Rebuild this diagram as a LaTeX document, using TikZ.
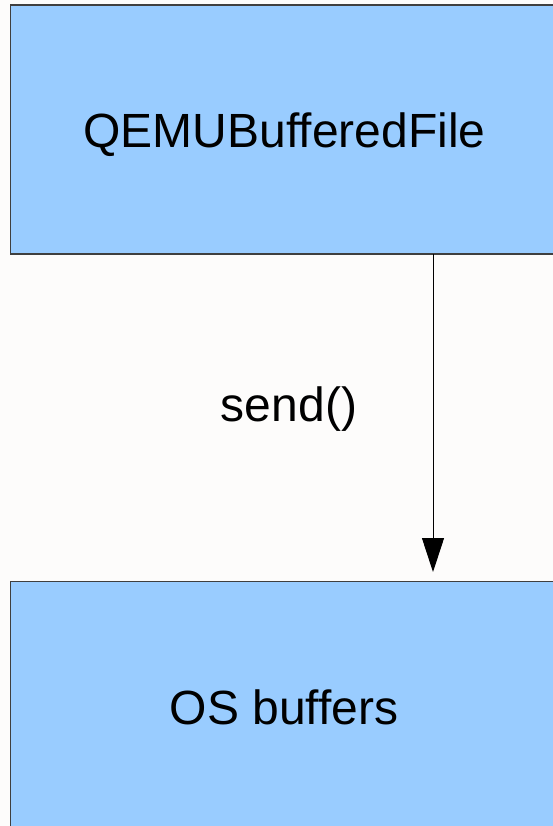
\documentclass[tikz,border=0pt]{standalone}
\usepackage{fontspec}
\setmainfont{Liberation Sans}
\usetikzlibrary{arrows.meta}
\definecolor{bg}{HTML}{FDFCFB}
\definecolor{boxfill}{HTML}{99CCFF}
\definecolor{boxline}{HTML}{3F3F3F}
\tikzset{
  blk/.style={draw=boxline, fill=boxfill, line width=1.2pt},
  lbl/.style={font=\fontsize{48}{57}\selectfont, text=black, inner sep=0pt, anchor=base},
}
\begin{document}
\begin{tikzpicture}[x=1pt,y=-1pt]
\fill[bg] (0,0) rectangle (553,826);
\useasboundingbox (0,0) rectangle (553,826);
\draw[blk] (10.5,5) rectangle (570,254);
\draw[blk] (10.5,581.5) rectangle (570,850);
\node[lbl] (qemu) at (284.5,148) {QEMUBufferedFile};
\node[lbl] (send) at (289,421) {send()};
\node[lbl] (os) at (284,724) {OS buffers};
\coordinate (a1) at (433,254);
\coordinate (a2) at (433,572);
\draw[line width=1pt, -{Triangle[length=34pt,width=22pt]}] (a1) -- (a2);
\end{tikzpicture}
\end{document}
